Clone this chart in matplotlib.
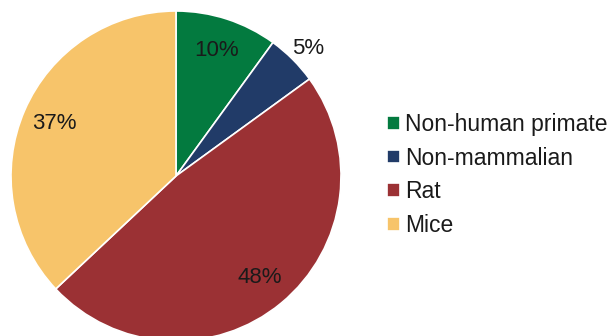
import numpy as np
import matplotlib
matplotlib.use("Agg")
import matplotlib.pyplot as plt

plt.rcParams['font.family'] = ['Liberation Sans', 'DejaVu Sans']

categories = ['Non-human primate', 'Non-mammalian', 'Rat', 'Mice']
shares = [10, 5, 48, 37]
colors = ['#037A3F', '#213B68', '#9B3134', '#F7C46A']

fig = plt.figure(figsize=(6.11, 3.36), dpi=100)
# pie axes: centre (176, 176) px, radius 165 px
ax = fig.add_axes([(176 - 165) / 611, (160 - 165) / 336, 330 / 611, 330 / 336])

wedges, texts, autotexts = ax.pie(
    shares, colors=colors, startangle=90, counterclock=False,
    autopct='%d%%', pctdistance=0.8,
    wedgeprops=dict(edgecolor='white', linewidth=1.2),
    textprops=dict(fontsize=16, color='#1a1a1a'))

# small slice label sits outside the pie
w = wedges[1]
mid = np.deg2rad((w.theta1 + w.theta2) / 2)
autotexts[1].set_position((1.13 * np.cos(mid), 1.09 * np.sin(mid)))

ax.set_xlim(-1, 1)
ax.set_ylim(-1, 1)
ax.set_aspect('equal')
ax.axis('off')

fig.legend(wedges, categories, loc='center left',
           bbox_to_anchor=(387 / 611, (336 - 175) / 336), frameon=False,
           fontsize=16.5, handlelength=0.55, handleheight=0.55,
           handletextpad=0.22, labelspacing=0.47, borderpad=0,
           borderaxespad=0, labelcolor='#1a1a1a')

fig.savefig('out.png', dpi=100)
